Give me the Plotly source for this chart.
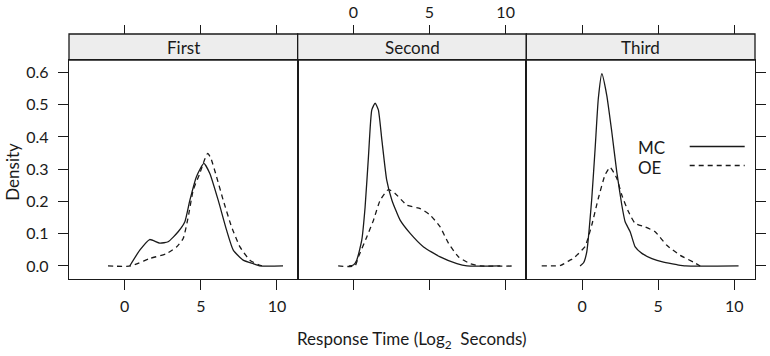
import plotly.graph_objects as go

# ---------------- data ----------------
panel_names = ["First", "Second", "Third"]
x_ticks = [0, 5, 10]
y_ticks = [0.0, 0.1, 0.2, 0.3, 0.4, 0.5, 0.6]
series_names = ["MC", "OE"]

first_mc_x = [0.33, 0.99, 1.64, 2.30, 2.85, 3.51, 3.95, 4.28, 4.71, 5.20, 5.59, 6.14, 6.69, 7.13, 7.78, 8.44, 8.90, 10.4]
first_mc_y = [0.0, 0.049, 0.082, 0.071, 0.075, 0.106, 0.137, 0.204, 0.277, 0.318, 0.287, 0.204, 0.111, 0.049, 0.018, 0.007, 0.0, 0.0]
first_oe_x = [-1.1, 0.4, 1.64, 2.74, 3.40, 3.84, 4.17, 4.50, 4.93, 5.25, 5.45, 5.65, 6.03, 6.47, 7.02, 7.57, 8.22, 8.90, 9.1]
first_oe_y = [0.0, 0.0, 0.023, 0.038, 0.059, 0.085, 0.152, 0.235, 0.287, 0.330, 0.349, 0.335, 0.277, 0.204, 0.121, 0.059, 0.018, 0.002, 0.0]

second_mc_x = [-0.3, 0.0, 0.22, 0.55, 0.77, 0.99, 1.21, 1.43, 1.64, 1.87, 2.19, 2.53, 3.07, 3.73, 4.61, 5.70, 6.80, 7.46, 9.65]
second_mc_y = [0.0, 0.003, 0.018, 0.080, 0.183, 0.339, 0.484, 0.505, 0.484, 0.391, 0.266, 0.204, 0.142, 0.101, 0.059, 0.028, 0.007, 0.0, 0.0]
second_oe_x = [-1.0, 0.1, 0.33, 0.88, 1.32, 1.76, 2.30, 2.74, 3.51, 4.39, 5.04, 5.70, 6.25, 6.91, 7.68, 8.33, 10.4]
second_oe_y = [0.0, 0.0, 0.028, 0.090, 0.142, 0.204, 0.237, 0.225, 0.189, 0.178, 0.158, 0.121, 0.070, 0.028, 0.007, 0.0, 0.0]

third_mc_x = [-0.13, 0.1, 0.31, 0.64, 0.86, 1.07, 1.30, 1.62, 1.95, 2.28, 2.61, 2.83, 3.16, 3.49, 3.93, 4.59, 5.35, 6.23, 6.8, 10.28]
third_mc_y = [0.0, 0.01, 0.044, 0.210, 0.365, 0.520, 0.596, 0.530, 0.417, 0.292, 0.189, 0.137, 0.106, 0.059, 0.039, 0.023, 0.012, 0.004, 0.0, 0.0]
third_oe_x = [-2.65, -1.4, -0.79, -0.57, -0.02, 0.20, 0.64, 1.07, 1.51, 1.84, 2.28, 2.61, 3.05, 3.49, 4.14, 4.80, 5.57, 6.45, 7.32, 7.76]
third_oe_y = [0.0, 0.002, 0.018, 0.023, 0.049, 0.060, 0.127, 0.210, 0.282, 0.306, 0.272, 0.220, 0.168, 0.132, 0.121, 0.106, 0.064, 0.033, 0.012, 0.0]

curves = [
    (first_mc_x, first_mc_y, first_oe_x, first_oe_y),
    (second_mc_x, second_mc_y, second_oe_x, second_oe_y),
    (third_mc_x, third_mc_y, third_oe_x, third_oe_y),
]

# ---------------- layout constants ----------------
W, H = 770, 356
ML, MR, MT, MB = 69.3, 14.7, 34.3, 77.3
plot_h = H - MT - MB
strip_h = 26.0
ytop = 1 - strip_h / plot_h
xrange_ = [-3.66, 11.36]
yrange_ = [-0.0404, 0.6385]
FONT = "Lato, 'Open Sans', sans-serif"
INK = "#1a1a1a"
LW = 1.3
doms = [[0, 1 / 3], [1 / 3, 2 / 3], [2 / 3, 1]]

fig = go.Figure()

for i, (mx, my, ox, oy) in enumerate(curves):
    xa = "x" if i == 0 else f"x{i+1}"
    ya = "y" if i == 0 else f"y{i+1}"
    fig.add_trace(go.Scatter(x=mx, y=my, mode="lines", xaxis=xa, yaxis=ya,
                             line=dict(color=INK, width=LW, shape="spline", smoothing=0.5),
                             name=series_names[0], showlegend=False, hoverinfo="skip"))
    fig.add_trace(go.Scatter(x=ox, y=oy, mode="lines", xaxis=xa, yaxis=ya,
                             line=dict(color=INK, width=LW, dash="5px,4px", shape="spline", smoothing=0.5),
                             name=series_names[1], showlegend=False, hoverinfo="skip"))
    # dummy trace for top overlay axis
    fig.add_trace(go.Scatter(x=[None], y=[None], xaxis=f"x{i+4}", yaxis=ya,
                             showlegend=False, hoverinfo="skip"))

common_x = dict(range=xrange_, tickvals=x_ticks, ticks="outside", ticklen=10,
                tickwidth=LW, tickcolor=INK, showgrid=False, zeroline=False, automargin=False,
                tickfont=dict(family=FONT, size=16, color=INK))
lay = {}
for i in range(3):
    k = "" if i == 0 else str(i + 1)
    lay[f"xaxis{k}"] = dict(common_x, domain=doms[i], anchor="y" + k,
                            showline=True, linecolor=INK, linewidth=LW, mirror=True,
                            showticklabels=(i != 1), ticklabelstandoff=3)
    lay[f"xaxis{i+4}"] = dict(common_x, overlaying="x" + k, anchor="free", position=1,
                              side="top", showline=False, ticklen=9,
                              showticklabels=(i == 1), ticklabelstandoff=1)
    ya = dict(range=yrange_, domain=[0, ytop], anchor="x" + k, showgrid=False, automargin=False,
              zeroline=False, showline=True, linecolor=INK, linewidth=LW, mirror=True,
              tickvals=y_ticks, tickformat=".1f", tickwidth=LW, tickcolor=INK, ticklen=10,
              tickfont=dict(family=FONT, size=16, color=INK))
    if i == 0:
        ya.update(ticks="outside", showticklabels=True, ticklabelstandoff=6)
    elif i == 1:
        ya.update(ticks="", showticklabels=False)
    else:
        ya.update(ticks="outside", side="right", showticklabels=False)
    lay[f"yaxis{k}"] = ya

shapes = []
annotations = []
for i, d in enumerate(doms):
    shapes.append(dict(type="rect", xref="paper", yref="paper", x0=d[0], x1=d[1],
                       y0=ytop, y1=1, fillcolor="#ededed", line=dict(color=INK, width=LW),
                       layer="below"))
    annotations.append(dict(xref="paper", yref="paper", x=(d[0] + d[1]) / 2, y=(1 + ytop) / 2,
                            text=panel_names[i], showarrow=False, xanchor="center", yanchor="middle",
                            font=dict(family=FONT, size=17, color=INK)))

def px2paper(px, py):
    return (px - ML) / (W - ML - MR), (H - MB - py) / plot_h

# axis titles
tx, ty = px2paper(412.3, 340)
annotations.append(dict(xref="paper", yref="paper", x=tx, y=ty,
                        text="Response Time (Log<sub>2</sub>  Seconds)", showarrow=False,
                        xanchor="center", yanchor="middle",
                        font=dict(family=FONT, size=17, color=INK)))
tx, ty = px2paper(12, 172)
annotations.append(dict(xref="paper", yref="paper", x=tx, y=ty, textangle=-90,
                        text="Density", showarrow=False, xanchor="center", yanchor="middle",
                        font=dict(family=FONT, size=17, color=INK)))

# legend (inside the third panel)
leg_rows = [(series_names[0], 148, "solid"), (series_names[1], 167, "5px,4px")]
for name, cy, dash in leg_rows:
    tx, ty = px2paper(636, cy)
    annotations.append(dict(xref="paper", yref="paper", x=tx, y=ty, text=name, showarrow=False,
                            xanchor="left", yanchor="middle",
                            font=dict(family=FONT, size=17, color=INK)))
    lx0, ly = px2paper(690, cy - 1.5)
    lx1, _ = px2paper(745, cy - 1.5)
    shapes.append(dict(type="line", xref="paper", yref="paper", x0=lx0, x1=lx1, y0=ly, y1=ly,
                       line=dict(color=INK, width=LW, dash=dash)))

fig.update_layout(width=W, height=H, margin=dict(l=ML, r=MR, t=MT, b=MB, autoexpand=False),
                  paper_bgcolor="white", plot_bgcolor="white",
                  shapes=shapes, annotations=annotations, showlegend=False, **lay)

fig.write_html("out.html", config={"displayModeBar": False},
               post_script="document.body.style.margin='0';document.body.style.padding='0';")
